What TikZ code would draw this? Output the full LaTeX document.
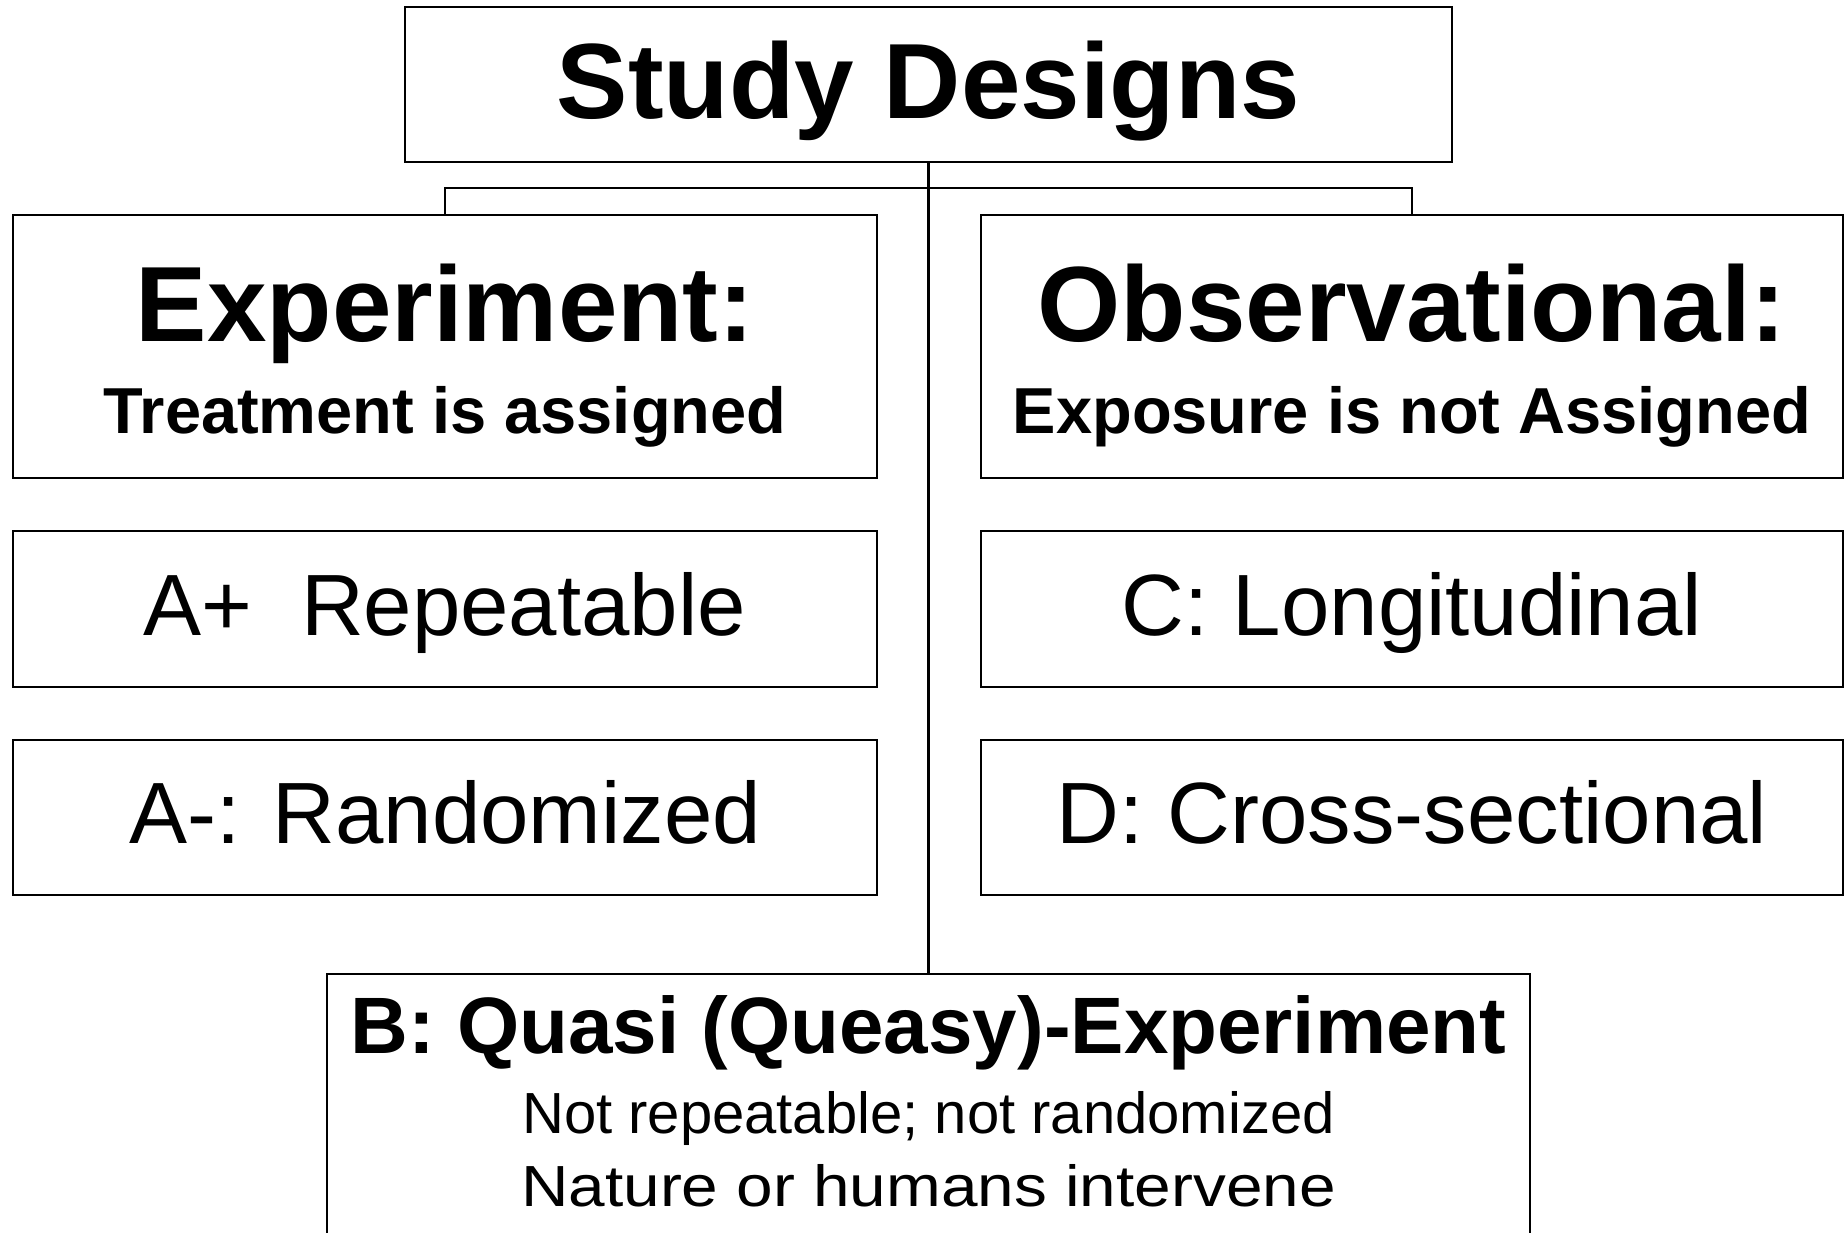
\documentclass[tikz,border=0pt]{standalone}
\usepackage{fontspec}
\setmainfont{Liberation Sans}
\begin{document}
\begin{tikzpicture}[x=1pt,y=-1pt,
  box/.style={draw, line width=2.5pt, inner sep=0pt, outer sep=0pt, align=center, fill=white},
  one/.style={box, text height=70pt, text depth=18pt, font=\fontsize{87}{100}\selectfont},
  conn/.style={line width=2.5pt}]
\fill[white] (0,0) rectangle (1845,1232);
\useasboundingbox (0,0) rectangle (1845,1232);
% title
\node[box, minimum width=1047pt, minimum height=155pt, text height=90pt, text depth=23pt,
      font=\fontsize{107}{107}\selectfont\bfseries] (top) at (928.5,84.5) {Study Designs};
% headers
\node[box, minimum width=864pt, minimum height=263pt, text height=190pt, text depth=17pt,
      font=\fontsize{107}{107}\selectfont\bfseries] (exp) at (445,346.5)
      {Experiment:\\[-15pt]{\fontsize{65}{65}\selectfont Treatment is assigned}};
\node[box, minimum width=862pt, minimum height=263pt, text height=190pt, text depth=17pt,
      font=\fontsize{107}{107}\selectfont\bfseries] (obs) at (1412,346.5)
      {Observational:\\[-15pt]{\fontsize{65}{65}\selectfont Exposure is not Assigned}};
% categories
\node[one, minimum width=864pt, minimum height=156pt] (ap) at (445,609) {A+\ \ Repeatable};
\node[one, minimum width=864pt, minimum height=155pt] (am) at (445,817.5) {A-: Randomized};
\node[one, minimum width=862pt, minimum height=156pt] (c) at (1412,609) {C: Longitudinal};
\node[one, minimum width=862pt, minimum height=155pt] (d) at (1412,817.5) {D: Cross-sectional};
% quasi
\node[box, minimum width=1203pt, minimum height=306pt, text height=178pt, text depth=20pt,
      font=\fontsize{80}{100}\selectfont] (quasi) at (928.5,1127)
      {\textbf{B: Quasi (Queasy)-Experiment}\\[-20pt]{\fontsize{58}{58}\selectfont Not repeatable; not randomized}\\[-27pt]{\fontsize{58}{58}\selectfont\addfontfeatures{FakeStretch=1.133}Nature or humans intervene}};
% connectors
\coordinate (bar) at (928.5,188);
\draw[conn] (top.south) -- (quasi.north);
\draw[conn] (exp.north) |- (bar) -| (obs.north);
\end{tikzpicture}
\end{document}
